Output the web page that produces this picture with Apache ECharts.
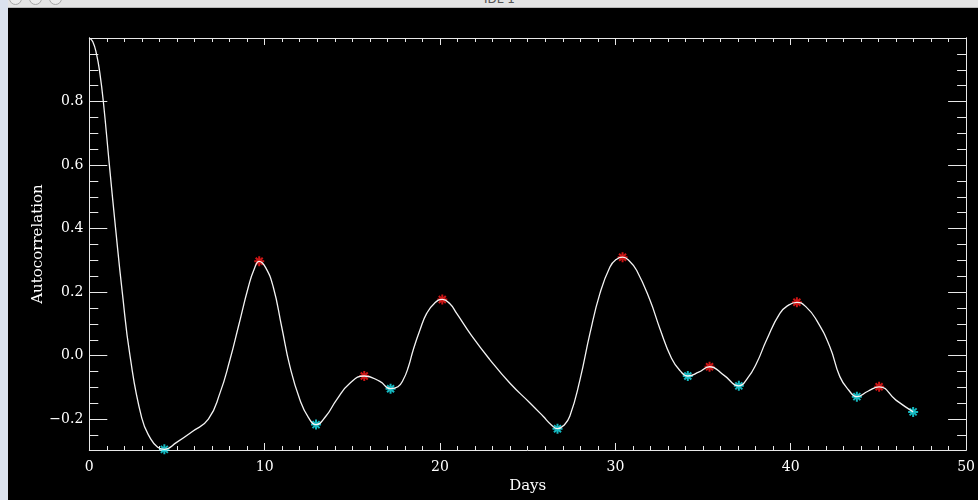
<!DOCTYPE html>
<html>
<head>
<meta charset="utf-8">
<script src="https://cdn.jsdelivr.net/npm/echarts@6/dist/echarts.min.js"></script>
<style>
html,body{margin:0;padding:0;width:978px;height:500px;overflow:hidden;background:#000;}
#side{position:absolute;left:0;top:0;width:8px;height:500px;background:#dbe2ee;}
#bar{position:absolute;left:8px;top:0;width:970px;height:7px;background:#e4e4e4;border-bottom:1px solid #b8b8b8;overflow:hidden;}
.dot{position:absolute;top:-8px;width:11px;height:11px;border:1px solid #a8a8a8;border-radius:50%;background:#ececec;}
#ttl{position:absolute;left:476px;top:-8px;font:12px "DejaVu Sans";color:#555;}
#chart{position:absolute;left:8px;top:8px;width:970px;height:492px;}
</style>
</head>
<body>
<div id="side"></div>
<div id="bar"><div class="dot" style="left:1px"></div><div class="dot" style="left:21px"></div><div class="dot" style="left:41px"></div><div id="ttl">IDL 1</div></div>
<div id="chart"></div>
<script>
// Autocorrelation curve (lag in days, value)
const days = [0, 0.2, 0.42, 0.6, 0.8, 1.14, 1.5, 1.88, 2.32, 2.99, 3.5, 3.9, 4.28, 4.98, 5.9, 6.79, 7.45, 8.02, 8.5, 9.07, 9.4, 9.69, 10.05, 10.49, 10.97, 11.44, 12.01, 12.5, 12.93, 13.5, 14.1, 14.86, 15.68, 16.57, 17.18, 17.6, 17.9, 18.2, 18.47, 18.85, 19.24, 19.7, 20.13, 20.55, 20.95, 21.8, 22.85, 23.99, 25.13, 25.88, 26.35, 26.7, 27.05, 27.4, 27.98, 28.55, 29.12, 29.69, 30.05, 30.41, 30.8, 31.21, 31.97, 32.54, 33.2, 33.7, 34.13, 34.75, 35.37, 36.2, 37.04, 37.55, 38.05, 38.62, 39.38, 39.9, 40.35, 40.9, 41.47, 42.23, 42.8, 43.3, 43.77, 44.4, 45.04, 46.0, 46.98];
const acf  = [1.0, 0.988, 0.947, 0.89, 0.80, 0.603, 0.40, 0.20, 0.0, -0.196, -0.262, -0.288, -0.295, -0.273, -0.238, -0.2, -0.118, -0.013, 0.091, 0.216, 0.272, 0.297, 0.278, 0.216, 0.091, -0.034, -0.139, -0.195, -0.217, -0.19, -0.139, -0.087, -0.064, -0.081, -0.104, -0.098, -0.076, -0.035, 0.018, 0.08, 0.133, 0.166, 0.177, 0.164, 0.133, 0.063, -0.013, -0.087, -0.149, -0.191, -0.218, -0.23, -0.22, -0.191, -0.076, 0.07, 0.196, 0.279, 0.303, 0.31, 0.298, 0.269, 0.175, 0.085, -0.008, -0.048, -0.064, -0.052, -0.035, -0.062, -0.095, -0.07, -0.024, 0.049, 0.133, 0.16, 0.168, 0.152, 0.112, 0.028, -0.066, -0.108, -0.129, -0.112, -0.098, -0.14, -0.177];
// Local maxima (red) and minima (cyan)
const maxDays = [9.69, 15.68, 20.13, 30.41, 35.37, 40.35, 45.04];
const maxVals = [0.297, -0.064, 0.177, 0.31, -0.035, 0.168, -0.098];
const minDays = [4.28, 12.93, 17.18, 26.7, 34.13, 37.04, 43.77, 46.98];
const minVals = [-0.295, -0.217, -0.104, -0.23, -0.064, -0.095, -0.129, -0.177];
// Axis ticks
const yMajor = [-0.2, 0.0, 0.2, 0.4, 0.6, 0.8];
const yMinor = [-0.25, -0.15, -0.1, -0.05, 0.05, 0.1, 0.15, 0.25, 0.3, 0.35, 0.45, 0.5, 0.55, 0.65, 0.7, 0.75, 0.85, 0.9, 0.95];
const X_MIN = 0, X_MAX = 50, X_STEP = 10;
const Y_MIN = -0.297, Y_MAX = 1.0;

const ax = '#e8e8e8';
const font = 'DejaVu Serif';
const star = 'path://M0,5 L10,5 M5,0 L5,10 M1.5,1.5 L8.5,8.5 M1.5,8.5 L8.5,1.5';
const fmt = v => (v < 0 ? '\u2212' : '') + Math.abs(v).toFixed(1);

function yAx(pos, vals, len, labels, name) {
  return {
    type: 'value', min: Y_MIN, max: Y_MAX, position: pos,
    axisLine: {show: true, lineStyle: {color: ax, width: 1}},
    axisTick: {show: true, inside: true, length: len, customValues: vals, lineStyle: {color: ax, width: 1}},
    axisLabel: labels ? {show: true, customValues: vals, formatter: fmt, color: '#fff', fontFamily: font, fontSize: 14, margin: 6} : {show: false},
    splitLine: {show: false},
    name: name || '', nameLocation: 'middle', nameGap: 44, nameMoveOverlap: false,
    nameTextStyle: {color: '#fff', fontFamily: font, fontSize: 15}
  };
}
function xAx(pos, labels, name) {
  return {
    type: 'value', min: X_MIN, max: X_MAX, interval: X_STEP, position: pos,
    axisLine: {show: true, onZero: false, lineStyle: {color: ax, width: 1}},
    axisTick: {show: true, inside: true, length: 7, lineStyle: {color: ax, width: 1}},
    minorTick: {show: true, splitNumber: 10, length: 4, lineStyle: {color: ax, width: 1}},
    axisLabel: labels ? {show: true, color: '#fff', fontFamily: font, fontSize: 14, margin: 10, formatter: v => String(v)} : {show: false},
    splitLine: {show: false}, minorSplitLine: {show: false},
    name: name || '', nameLocation: 'middle', nameGap: 29, nameMoveOverlap: false,
    nameTextStyle: {color: '#fff', fontFamily: font, fontSize: 15}
  };
}

const chart = echarts.init(document.getElementById('chart'));
chart.setOption({
  backgroundColor: '#000',
  animation: false,
  grid: {left: 81.3, top: 30, right: 11.7, bottom: 50, containLabel: false},
  xAxis: [xAx('bottom', true, 'Days'), xAx('top', false)],
  yAxis: [
    yAx('left', yMajor, 18, true, 'Autocorrelation'),
    yAx('left', yMinor, 9, false),
    yAx('right', yMajor, 18, false),
    yAx('right', yMinor, 9, false)
  ],
  series: [
    {
      type: 'line', xAxisIndex: 0, yAxisIndex: 0,
      data: days.map((d, i) => [d, acf[i]]),
      showSymbol: false, smooth: 0.5,
      lineStyle: {color: '#f4f4f4', width: 1.3}
    },
    {
      type: 'scatter', xAxisIndex: 0, yAxisIndex: 0,
      data: maxDays.map((d, i) => [d, maxVals[i]]),
      symbol: star, symbolSize: 10,
      itemStyle: {color: 'rgba(0,0,0,0)', borderColor: '#ff1a1a', borderWidth: 2}
    },
    {
      type: 'scatter', xAxisIndex: 0, yAxisIndex: 0,
      data: minDays.map((d, i) => [d, minVals[i]]),
      symbol: star, symbolSize: 10,
      itemStyle: {color: 'rgba(0,0,0,0)', borderColor: '#1ae6f0', borderWidth: 2}
    }
  ]
});
</script>
</body>
</html>
